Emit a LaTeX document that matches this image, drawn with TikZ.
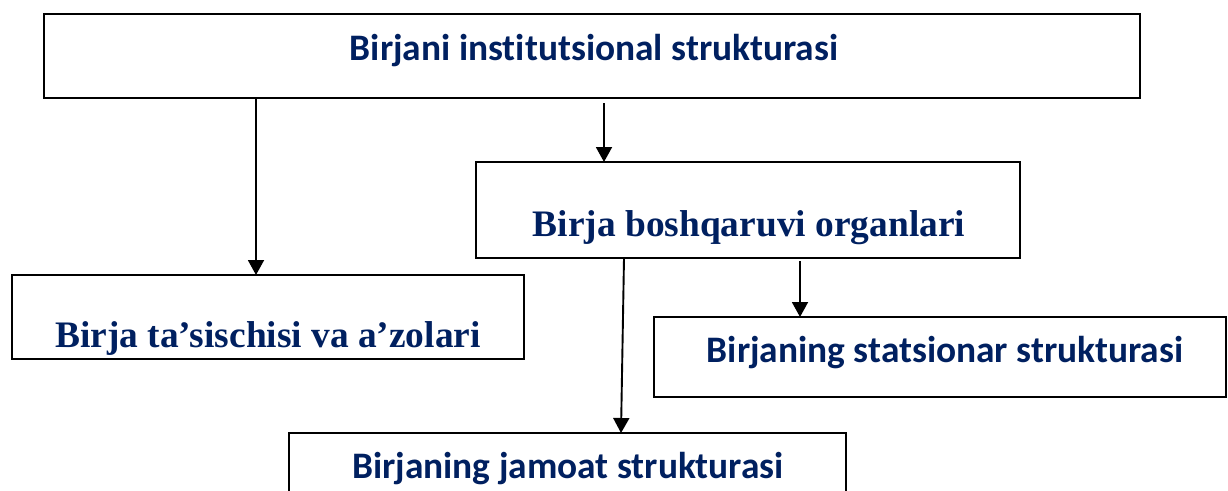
\documentclass[tikz,border=0pt]{standalone}
\usepackage{fontspec}
\setmainfont{Liberation Serif}
\newfontfamily\calibri[Ligatures=NoCommon]{Carlito}
\usetikzlibrary{arrows.meta}
\definecolor{navy}{RGB}{0,32,96}
\begin{document}
\begin{tikzpicture}[x=1pt,y=-1pt,
  box/.style={draw=black, line width=1.6pt, inner sep=0pt, outer sep=0pt, fill=white},
  sanslbl/.style={text=navy, inner sep=0pt, anchor=base, font=\calibri\bfseries\fontsize{37.4}{42}\selectfont},
  seriflbl/.style={text=navy, inner sep=0pt, anchor=base, font=\bfseries\fontsize{37.4}{42}\selectfont},
  arr/.style={draw=black, line width=1.9pt, -{Triangle[length=15pt,width=16pt]}}]
\useasboundingbox (0,0) rectangle (1228,490);
\clip (0,0) rectangle (1228,490);

% boxes
\node[box, minimum width=1096pt, minimum height=84pt] (top) at (592,56) {};
\node[box, minimum width=544pt, minimum height=96pt] (mid) at (748,210) {};
\node[box, minimum width=512pt, minimum height=84pt] (lb) at (268,317) {};
\node[box, minimum width=572pt, minimum height=80pt] (rb) at (940,357) {};
\node[box, minimum width=557pt, minimum height=80pt] (bot) at (567.5,473) {};

% labels
\node[sanslbl] (ttop) at (594,60) {Birjani institutsional strukturasi};
\node[seriflbl] (tmid) at (749,236) {Birja boshqaruvi organlari};
\node[seriflbl] (tlb) at (268,347) {Birja ta’sischisi va a’zolari};
\node[sanslbl] (trb) at (945,362) {Birjaning statsionar strukturasi};
\node[sanslbl] (tbot) at (568,478) {Birjaning jamoat strukturasi};

% connectors
\coordinate (xa) at (256,0);
\coordinate (xb) at (604,0);
\coordinate (xc) at (624,0);
\coordinate (xd) at (621,0);
\coordinate (xe) at (800,0);
\draw[arr] (top.south -| xa) -- (lb.north -| xa);
\draw[arr] ([yshift=-5pt]top.south -| xb) -- (mid.north -| xb);
\draw[arr] (mid.south -| xc) -- (bot.north -| xd);
\draw[arr] ([yshift=-3pt]mid.south -| xe) -- (rb.north -| xe);
\end{tikzpicture}
\end{document}
